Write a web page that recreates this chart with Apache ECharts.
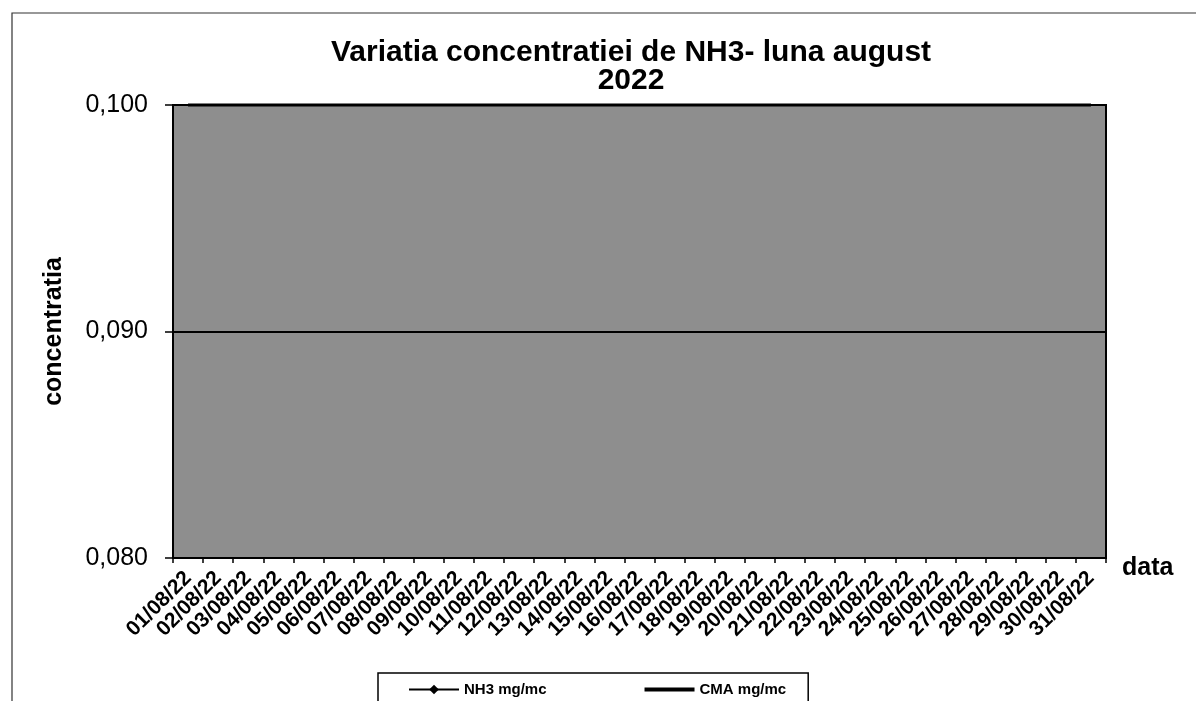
<!DOCTYPE html>
<html><head><meta charset="utf-8">
<script src="https://cdn.jsdelivr.net/npm/echarts@6/dist/echarts.min.js"></script>
<style>html,body{margin:0;padding:0;background:#fff}#c{width:1196px;height:701px}</style>
</head><body><div id="c"></div>
<script>
const categories = ['01/08/22','02/08/22','03/08/22','04/08/22','05/08/22','06/08/22','07/08/22','08/08/22','09/08/22','10/08/22','11/08/22','12/08/22','13/08/22','14/08/22','15/08/22','16/08/22','17/08/22','18/08/22','19/08/22','20/08/22','21/08/22','22/08/22','23/08/22','24/08/22','25/08/22','26/08/22','27/08/22','28/08/22','29/08/22','30/08/22','31/08/22'];
// NH3 values lie below the visible range (no NH3 line is visible in the picture)
const nh3 = [0.02,0.02,0.02,0.02,0.02,0.02,0.02,0.02,0.02,0.02,0.02,0.02,0.02,0.02,0.02,0.02,0.02,0.02,0.02,0.02,0.02,0.02,0.02,0.02,0.02,0.02,0.02,0.02,0.02,0.02,0.02];
const cma = [0.1,0.1,0.1,0.1,0.1,0.1,0.1,0.1,0.1,0.1,0.1,0.1,0.1,0.1,0.1,0.1,0.1,0.1,0.1,0.1,0.1,0.1,0.1,0.1,0.1,0.1,0.1,0.1,0.1,0.1,0.1];
const yTicks = [0.08, 0.09, 0.10];

const chart = echarts.init(document.getElementById('c'));
const F = 'Liberation Sans, Arial, sans-serif';
chart.setOption({
  animation: false,
  backgroundColor: '#fff',
  textStyle: {fontFamily: F},
  graphic: [{type:'rect', shape:{x:12,y:13,width:1200,height:720}, style:{fill:'none', stroke:'#333', lineWidth:1.2}, silent:true}],
  title: {
    text: 'Variatia concentratiei de NH3- luna august\n2022',
    left: 626, top: 34, textAlign: 'center',
    textStyle: {fontFamily: F, fontSize: 30, fontWeight: 'bold', color: '#000', lineHeight: 28}
  },
  legend: {
    left: 378, top: 673,
    padding: [9, 22, 14, 30], itemGap: 96,
    borderColor: '#000', borderWidth: 1.5, borderRadius: 0,
    itemWidth: 50, itemHeight: 12,
    textStyle: {fontFamily: F, fontSize: 15, fontWeight: 'bold', color: '#000'},
    data: [
      {name: 'NH3 mg/mc'},
      {name: 'CMA mg/mc', itemStyle: {opacity: 0}, lineStyle: {width: 4, color: '#000'}}
    ]
  },
  grid: {left: 173, right: 90, top: 105, bottom: 143, show: true, backgroundColor: '#8e8e8e', borderColor: '#000', borderWidth: 2},
  xAxis: {
    type: 'category', data: categories, boundaryGap: true,
    name: 'data', nameLocation: 'end', nameGap: 16,
    nameTextStyle: {fontFamily: F, fontSize: 25, fontWeight: 'bold', color: '#000', verticalAlign: 'top', lineHeight: 25, padding: [-2,0,0,0]},
    axisLine: {lineStyle: {color: '#000', width: 2}},
    axisTick: {show: true, alignWithLabel: false, length: 5, lineStyle: {color:'#000', width: 1.5}},
    axisLabel: {rotate: 45, interval: 0, fontFamily: F, fontSize: 21, fontWeight: 'bold', color: '#000', margin: 17}
  },
  yAxis: {
    type: 'value', min: 0.08, max: 0.1, interval: 0.01,
    name: 'concentratia', nameLocation: 'middle', nameGap: 106, nameRotate: 90,
    nameTextStyle: {fontFamily: F, fontSize: 25, fontWeight: 'bold', color: '#000'},
    axisLine: {show: true, lineStyle: {color: '#000', width: 2}},
    axisTick: {show: true, length: 8, lineStyle: {color:'#000', width: 1.5}},
    axisLabel: {fontFamily: F, fontSize: 25, color: '#000', margin: 25, formatter: v => v.toFixed(3).replace('.', ',')},
    splitLine: {show: true, lineStyle: {color: '#000', width: 2}}
  },
  series: [
    {name: 'NH3 mg/mc', type: 'line', data: nh3, symbol: 'diamond', symbolSize: 7, clip: true,
     lineStyle: {color: '#000', width: 2}, itemStyle: {color: '#000'}},
    {name: 'CMA mg/mc', type: 'line', data: cma, symbol: 'none', clip: false,
     lineStyle: {color: '#000', width: 3}, itemStyle: {color: '#000'}}
  ]
});
</script></body></html>
